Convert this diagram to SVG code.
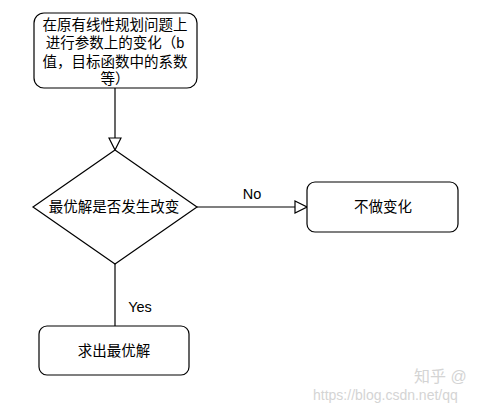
<svg xmlns="http://www.w3.org/2000/svg" width="477" height="415" viewBox="0 0 477 415">
  <style>
    .shape { fill: #ffffff; stroke: #000000; stroke-width: 1.2; }
    .edge { fill: none; stroke: #000000; stroke-width: 1.2; }
    .label { font-family: "Liberation Sans", "Noto Sans CJK SC", sans-serif; font-size: 14.5px; fill: #000000; text-anchor: middle; dominant-baseline: central; }
    .mark { font-family: "Liberation Sans", "Noto Sans CJK SC", sans-serif; fill: #d4d4d4; }
  </style>
  <defs>
    <marker id="hollow" viewBox="0 0 14 14" refX="13" refY="7" markerWidth="14" markerHeight="14" markerUnits="userSpaceOnUse" orient="auto">
      <path d="M1,1 L13,7 L1,13 Z" fill="#ffffff" stroke="#000000" stroke-width="1.2"/>
    </marker>
  </defs>
  <rect width="477" height="415" fill="#ffffff"/>

  <g id="connectors">
    <line class="edge" x1="115" y1="88" x2="115" y2="150" marker-end="url(#hollow)"/>
    <line class="edge" x1="197" y1="207" x2="307" y2="207" marker-end="url(#hollow)"/>
    <line class="edge" x1="115" y1="264" x2="115" y2="326"/>
    <text class="label" x="252" y="194">No</text>
    <text class="label" x="140" y="307">Yes</text>
  </g>

  <g id="start">
    <rect class="shape" x="34" y="13" width="163" height="75" rx="10" ry="10"/>
    <text class="label" x="115" y="25">在原有线性规划问题上</text>
    <text class="label" x="115" y="43">进行参数上的变化（b</text>
    <text class="label" x="115" y="62">值，目标函数中的系数</text>
    <text class="label" x="115" y="79">等）</text>
  </g>

  <g id="decision">
    <polygon class="shape" points="115,150 197,207 115,264 33,207"/>
    <text class="label" x="114" y="207">最优解是否发生改变</text>
  </g>

  <g id="nochange">
    <rect class="shape" x="307" y="182" width="151" height="50" rx="8" ry="8"/>
    <text class="label" x="383" y="207">不做变化</text>
  </g>

  <g id="optimum">
    <rect class="shape" x="39" y="326" width="150" height="49" rx="8" ry="8"/>
    <text class="label" x="114" y="351">求出最优解</text>
  </g>

  <text class="mark" x="414" y="382" font-size="16">知乎 @</text>
  <text class="mark" x="313" y="400" font-size="14">https://blog.csdn.net/qq</text>
</svg>
